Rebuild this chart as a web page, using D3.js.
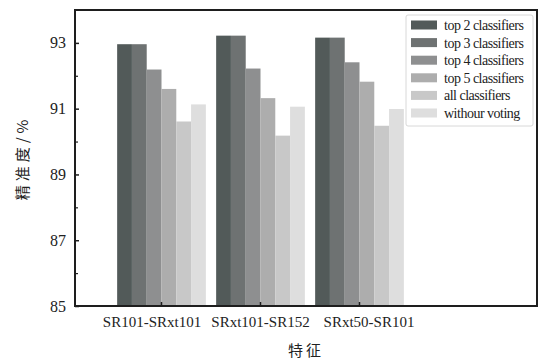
<!DOCTYPE html>
<html>
<head>
<meta charset="utf-8">
<script src="https://cdn.jsdelivr.net/npm/d3@7"></script>
<style>
  body { margin: 0; background: #fff; }
  svg { display: block; }
</style>
</head>
<body>
<div id="chart"></div>
<script>
// chart data
const categories = ['SR101-SRxt101', 'SRxt101-SR152', 'SRxt50-SR101'];
const seriesNames = ['top 2 classifiers', 'top 3 classifiers', 'top 4 classifiers',
  'top 5 classifiers', 'all classifiers', 'withour voting'];
const top2 = [92.96, 93.22, 93.16];
const top3 = [92.96, 93.22, 93.16];
const top4 = [92.19, 92.22, 92.41];
const top5 = [91.60, 91.32, 91.82];
const allClf = [90.61, 90.18, 90.48];
const noVoting = [91.13, 91.06, 90.99];
const yTicks = [85, 87, 89, 91, 93];
const yMinorTicks = [86, 88, 90, 92];

const seriesValues = [top2, top3, top4, top5, allClf, noVoting];
const colors = ['#525a59', '#6e7272', '#8e8f90', '#adadad', '#c8c8c8', '#dedede'];

const width = 539, height = 361;
const plot = { left: 75, right: 537, top: 10, bottom: 306 };
const serif = '"Liberation Serif", "DejaVu Serif", serif';
const cjk = '"Noto Sans CJK SC", sans-serif';

const svg = d3.select('#chart').append('svg')
  .attr('width', width)
  .attr('height', height);

// scales
const y = d3.scaleLinear()
  .domain([85, 94])
  .range([plot.bottom, plot.top]);

const x0 = d3.scaleBand()
  .domain(categories)
  .range([112, 409])
  .paddingInner(0.104)
  .paddingOuter(0.052);

const x1 = d3.scaleBand()
  .domain(seriesNames)
  .range([0, x0.bandwidth()]);

// bars
const groups = svg.append('g').selectAll('g')
  .data(categories)
  .enter()
  .append('g')
  .attr('transform', d => `translate(${x0(d)},0)`);

groups.selectAll('rect')
  .data((c, ci) => seriesNames.map((s, si) => ({ s, si, v: seriesValues[si][ci] })))
  .enter()
  .append('rect')
  .attr('x', d => x1(d.s))
  .attr('y', d => y(d.v))
  .attr('width', x1.bandwidth())
  .attr('height', d => y(85) - y(d.v))
  .attr('fill', d => colors[d.si]);

// frame
svg.append('rect')
  .attr('x', plot.left)
  .attr('y', plot.top)
  .attr('width', plot.right - plot.left)
  .attr('height', plot.bottom - plot.top)
  .attr('fill', 'none')
  .attr('stroke', '#1e1e1e')
  .attr('stroke-width', 2);

// y axis, ticks inward
const yAxis = d3.axisRight(y)
  .tickValues(yTicks)
  .tickSize(4)
  .tickFormat('');
const yAxisG = svg.append('g')
  .attr('transform', `translate(${plot.left},0)`)
  .call(yAxis);
yAxisG.select('.domain').remove();
yAxisG.selectAll('line').attr('stroke', '#1e1e1e').attr('stroke-width', 1.5);

const yMinor = svg.append('g')
  .attr('transform', `translate(${plot.left},0)`)
  .call(d3.axisRight(y).tickValues(yMinorTicks).tickSize(3).tickFormat(''));
yMinor.select('.domain').remove();
yMinor.selectAll('line').attr('stroke', '#1e1e1e').attr('stroke-width', 1.2);

svg.append('g').selectAll('text')
  .data(yTicks)
  .enter()
  .append('text')
  .attr('x', plot.left - 9)
  .attr('y', d => y(d))
  .attr('dy', '0.35em')
  .attr('text-anchor', 'end')
  .style('font-family', serif)
  .style('font-size', '16px')
  .style('fill', '#222')
  .text(d => d);

// x axis, ticks inward
const xAxisG = svg.append('g')
  .attr('transform', `translate(0,${plot.bottom})`)
  .call(d3.axisTop(x0).tickSize(4).tickFormat(''));
xAxisG.select('.domain').remove();
xAxisG.selectAll('line').attr('stroke', '#1e1e1e').attr('stroke-width', 1.5);

svg.append('g').selectAll('text')
  .data(categories)
  .enter()
  .append('text')
  .attr('x', (d, i) => x0(d) + x0.bandwidth() / 2 + (i - 1) * 9.5)
  .attr('y', 327)
  .attr('text-anchor', 'middle')
  .style('font-family', serif)
  .style('font-size', '15px')
  .style('fill', '#222')
  .text(d => d);

// axis titles
svg.append('text')
  .attr('x', (plot.left + plot.right) / 2)
  .attr('y', 356)
  .attr('text-anchor', 'middle')
  .style('font-family', cjk)
  .style('font-size', '15px')
  .style('letter-spacing', '3px')
  .style('fill', '#222')
  .text('特征');

svg.append('text')
  .attr('transform', `translate(28,${(plot.top + plot.bottom) / 2}) rotate(-90)`)
  .attr('text-anchor', 'middle')
  .style('font-family', cjk)
  .style('font-size', '15px')
  .style('letter-spacing', '4px')
  .style('fill', '#222')
  .text('精准度/%');

// legend
const legend = svg.append('g').attr('transform', 'translate(406,15)');
legend.append('rect')
  .attr('width', 127)
  .attr('height', 111)
  .attr('rx', 2)
  .attr('fill', '#fff')
  .attr('stroke', '#d8d8d8');

const items = legend.selectAll('.item')
  .data(seriesNames)
  .enter()
  .append('g')
  .attr('class', 'item')
  .attr('transform', (d, i) => `translate(5,${10 + i * 17.6})`);

items.append('rect')
  .attr('y', -4.5)
  .attr('width', 26)
  .attr('height', 9)
  .attr('fill', (d, i) => colors[i]);

items.append('text')
  .attr('x', 33)
  .attr('dy', '0.35em')
  .style('font-family', serif)
  .style('font-size', '14px')
  .style('letter-spacing', '-0.5px')
  .style('fill', '#222')
  .text(d => d);
</script>
</body>
</html>
